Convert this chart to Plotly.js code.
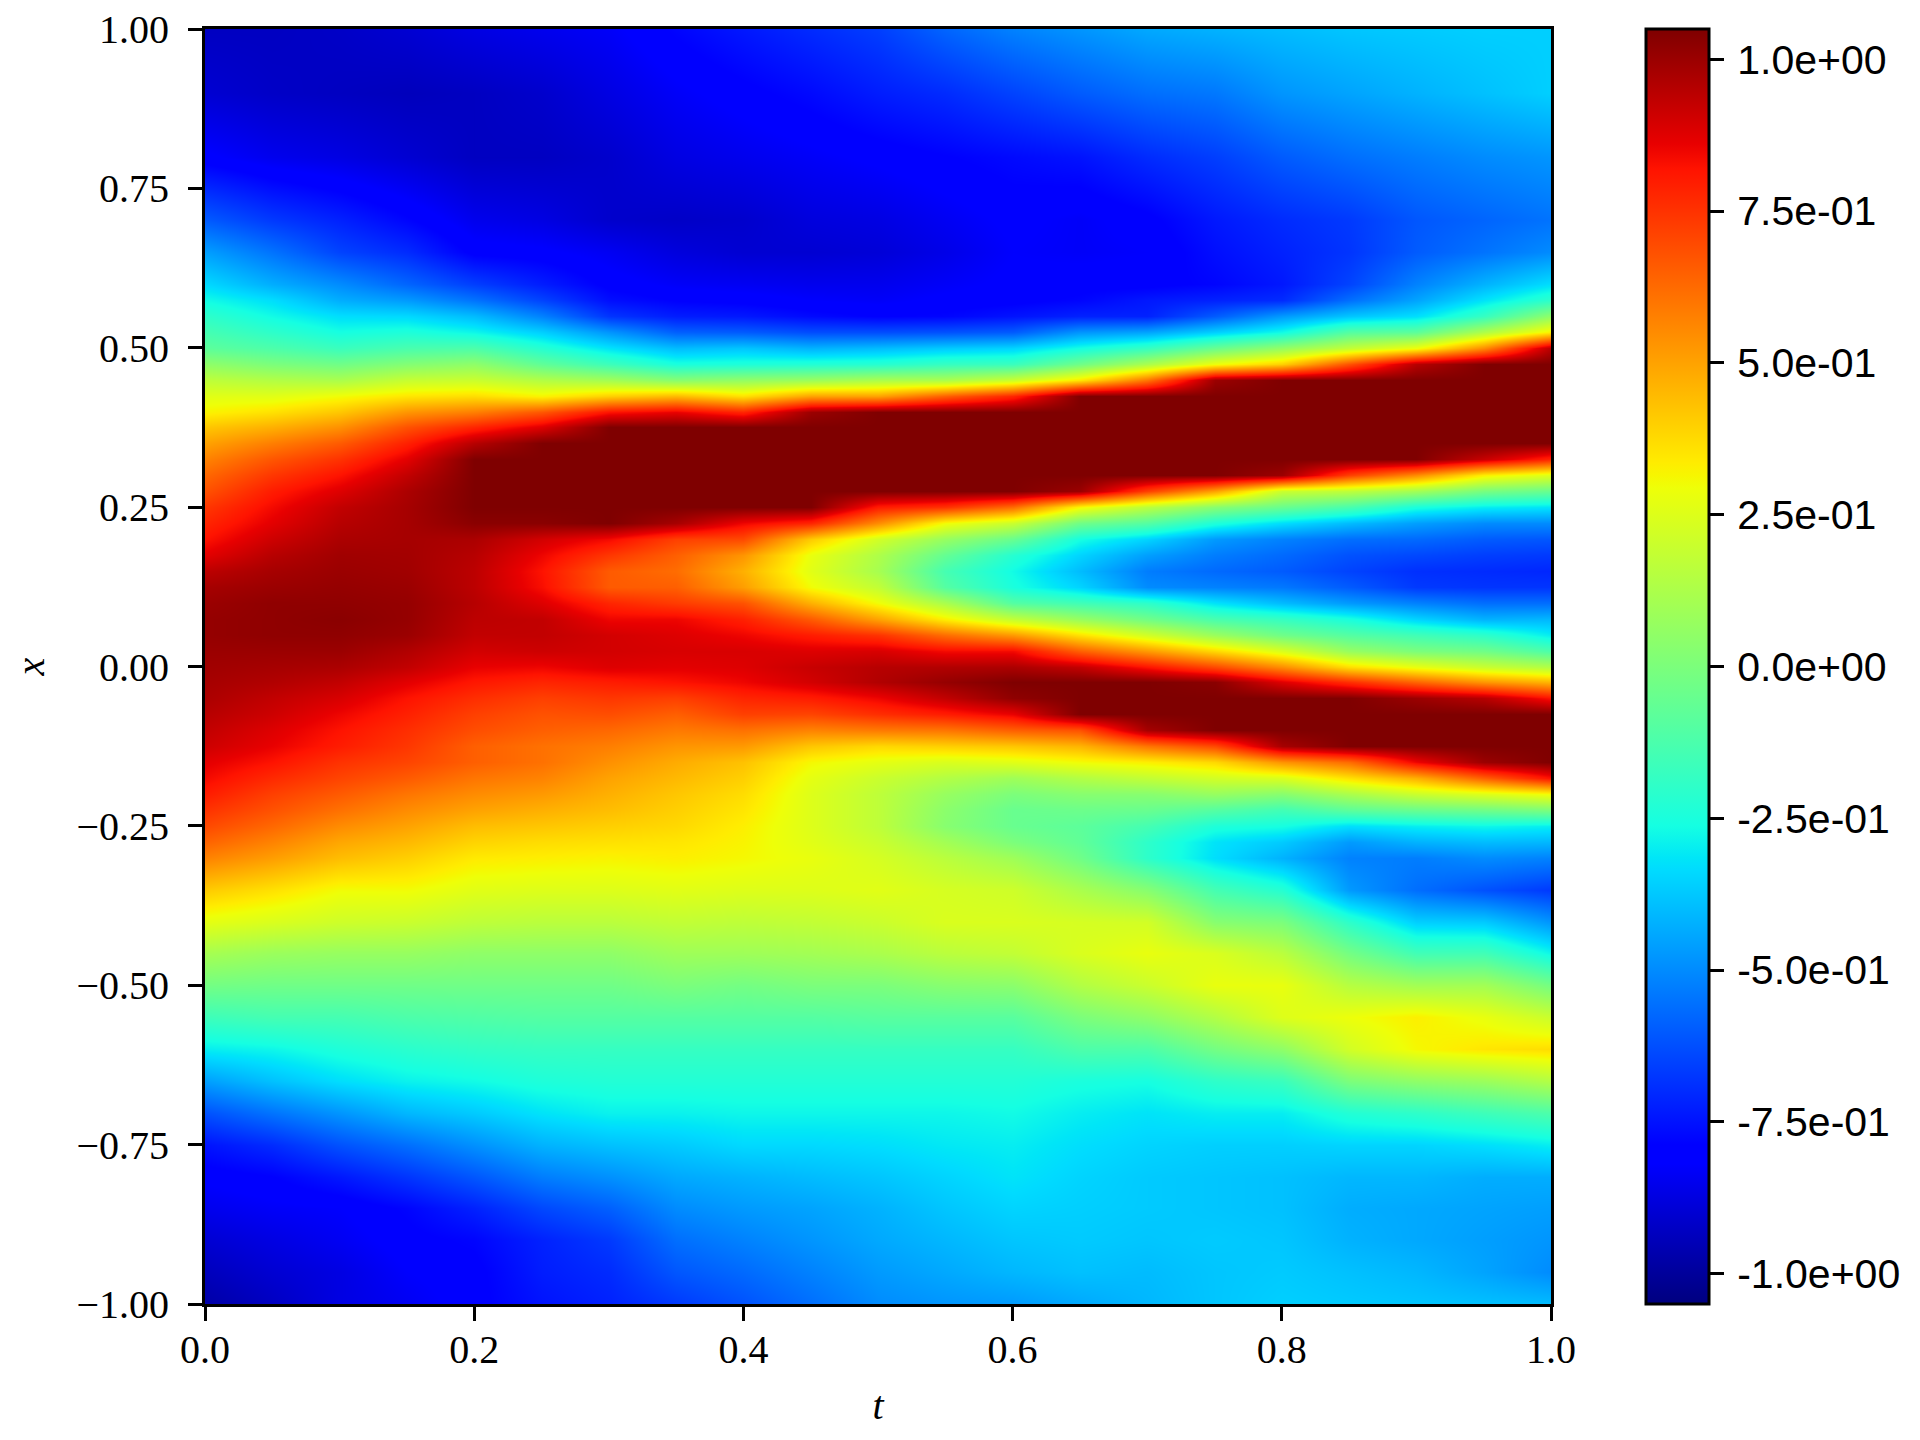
<!DOCTYPE html>
<html><head><meta charset="utf-8">
<script src="https://cdn.plot.ly/plotly-3.0.1.min.js"></script>
<style>html,body{margin:0;padding:0;background:#fff}#p{width:1920px;height:1440px}</style>
</head><body><div id="p"></div>
<script>
const xRows = [1,.9,.8,.7,.65,.6,
 .575,.55,.525,.5,.475,.45,.425,.4,
 .375,.35,.325,.3,.275,.25,.225,.2,
 .175,.15,.125,.1,.075,.05,.025,0,
 -.025,-.05,-.075,-.1,-.125,-.15,-.175,-.2,
 -.225,-.25,-.275,-.3,
 -.35,-.4,-.45,-.5,-.55,-.6,-.65,-.7,-.75,-.8,-.85,-.9,-.95,-1];
const tCols = [0,.05,.1,.15,.2,.25,.3,.35,.4,.45,.5,.55,.6,.65,.7,.75,.8,.85,.9,.95,1];
const u00 = [-.93,-.9,-.81,-.6,-.46,-.34,
 -.27,-.2,-.14,-.08,.05,.17,.26,.32,
 .42,.5,.57,.63,.68,.74,.78,.82,
 .87,.94,.98,1,1.01,1.01,1,.99,
 .98,.97,.95,.93,.91,.87,.84,.8,
 .75,.7,.64,.57,
 .41,.27,.11,-.02,-.16,-.3,-.46,-.62,-.75,-.81,-.85,-.9,-.94,-.98];
const u05 = [-.93,-.92,-.85,-.67,-.55,-.43,
 -.33,-.27,-.2,-.12,0,.14,.26,.36,
 .47,.58,.67,.74,.8,.84,.87,.91,
 .95,.98,1,1.02,1.02,1.02,1,.98,
 .96,.93,.91,.88,.86,.82,.77,.72,
 .68,.63,.57,.51,
 .36,.24,.08,-.03,-.14,-.28,-.39,-.55,-.7,-.79,-.83,-.87,-.9,-.93];
const u10 = [-.92,-.93,-.87,-.72,-.65,-.5,
 -.43,-.33,-.26,-.17,-.03,.12,.3,.42,
 .54,.66,.75,.82,.88,.93,.95,.97,
 .99,1,1.01,1.02,1.03,1.02,1,.97,
 .93,.89,.85,.82,.8,.75,.71,.66,
 .61,.55,.49,.44,
 .3,.21,.07,-.03,-.14,-.24,-.33,-.48,-.62,-.74,-.82,-.84,-.87,-.87];
const u15 = [-.9,-.94,-.9,-.78,-.7,-.58,
 -.47,-.34,-.24,-.13,.02,.19,.35,.53,
 .68,.79,.87,.93,.97,.98,.98,.98,
 .985,.99,1,1.01,1.01,1,.96,.93,
 .87,.82,.79,.76,.74,.71,.66,.6,
 .55,.5,.45,.4,
 .3,.2,.07,-.03,-.12,-.21,-.29,-.41,-.56,-.68,-.78,-.8,-.82,-.84];
const u20 = [-.87,-.93,-.93,-.85,-.8,-.66,
 -.55,-.4,-.28,-.12,.05,.2,.37,.58,
 .78,.95,1.05,1.05,1.05,1.05,1.03,.97,
 .95,.94,.94,.95,.94,.93,.9,.86,
 .81,.76,.72,.69,.65,.65,.6,.55,
 .5,.44,.39,.34,
 .26,.17,.05,-.03,-.11,-.19,-.27,-.37,-.49,-.61,-.72,-.78,-.8,-.8];
const u25 = [-.85,-.91,-.93,-.87,-.81,-.73,
 -.65,-.52,-.36,-.22,-.07,.14,.32,.67,
 .88,1.05,1.05,1.05,1.05,1.05,1.03,.9,
 .85,.82,.83,.88,.93,.93,.91,.85,
 .78,.72,.68,.65,.61,.61,.57,.52,
 .47,.42,.37,.33,
 .25,.16,.05,-.03,-.1,-.18,-.24,-.32,-.42,-.53,-.64,-.72,-.73,-.75];
const u30 = [-.83,-.87,-.91,-.91,-.84,-.8,
 -.76,-.68,-.48,-.32,-.16,.1,.4,.82,
 1.05,1.05,1.05,1.05,1.05,1.05,1.05,.84,
 .74,.66,.66,.78,.85,.9,.9,.88,
 .8,.74,.69,.63,.58,.54,.5,.47,
 .44,.4,.36,.32,
 .25,.16,.05,-.03,-.1,-.18,-.23,-.29,-.39,-.49,-.59,-.67,-.7,-.72];
const u35 = [-.78,-.83,-.87,-.92,-.88,-.83,
 -.79,-.73,-.59,-.4,-.25,.03,.45,.86,
 1.05,1.05,1.05,1.05,1.05,1.05,.98,.72,
 .65,.62,.65,.73,.85,.88,.89,.87,
 .82,.72,.65,.59,.53,.48,.45,.42,
 .4,.38,.35,.33,
 .26,.18,.09,0,-.1,-.18,-.23,-.29,-.37,-.44,-.5,-.56,-.61,-.67];
const u40 = [-.74,-.8,-.85,-.91,-.9,-.84,
 -.8,-.74,-.6,-.38,-.24,.06,.36,.78,
 1.05,1.05,1.05,1.05,1.05,1.05,.85,.7,
 .53,.47,.51,.68,.79,.85,.89,.88,
 .85,.78,.72,.61,.52,.43,.4,.37,
 .35,.33,.32,.31,
 .25,.17,.09,-.02,-.1,-.18,-.23,-.28,-.34,-.42,-.47,-.52,-.57,-.62];
const u45 = [-.7,-.77,-.83,-.88,-.9,-.85,
 -.82,-.77,-.63,-.42,-.23,.08,.5,1,
 1.05,1.05,1.05,1.05,1.05,1.05,.78,.41,
 .28,.26,.3,.47,.66,.8,.88,.92,
 .9,.8,.71,.57,.42,.31,.27,.25,
 .25,.25,.26,.28,
 .25,.18,.1,0,-.1,-.18,-.23,-.28,-.34,-.4,-.45,-.48,-.52,-.56];
const u50 = [-.66,-.73,-.81,-.87,-.89,-.85,
 -.83,-.79,-.63,-.4,-.22,.12,.5,1.05,
 1.05,1.05,1.05,1.05,1.05,.8,.55,.22,
 .13,.11,.18,.3,.5,.75,.89,.95,
 .96,.85,.76,.59,.38,.27,.2,.17,
 .17,.17,.2,.23,
 .26,.2,.12,0,-.09,-.18,-.23,-.28,-.33,-.38,-.42,-.44,-.47,-.5];
const u55 = [-.58,-.7,-.79,-.84,-.86,-.83,
 -.81,-.78,-.62,-.37,-.18,.12,.65,1.05,
 1.05,1.05,1.05,1.05,1.05,.75,.3,.07,
 -.06,-.14,-.1,.12,.33,.62,.84,.96,
 1.01,.93,.8,.6,.4,.24,.14,.07,
 .04,.03,.1,.16,
 .23,.24,.16,.03,-.09,-.18,-.23,-.28,-.31,-.35,-.38,-.41,-.44,-.48];
const u60 = [-.52,-.65,-.77,-.81,-.82,-.81,
 -.8,-.75,-.6,-.35,-.17,.2,.78,1.05,
 1.05,1.05,1.05,1.05,1.05,.62,.2,-.05,
 -.22,-.27,-.25,-.1,.18,.52,.84,.97,
 1.05,1.02,.86,.65,.42,.26,.09,0,
 -.05,-.05,0,.09,
 .21,.24,.18,.04,-.09,-.18,-.23,-.27,-.3,-.32,-.35,-.38,-.41,-.47];
const u65 = [-.48,-.6,-.75,-.83,-.83,-.8,
 -.78,-.72,-.48,-.26,-.03,.35,1.05,1.05,
 1.05,1.05,1.05,1.05,1,.31,-.03,-.26,
 -.35,-.4,-.35,-.15,.07,.36,.65,.93,
 1.05,1.05,1.05,.68,.46,.3,.14,.03,
 -.04,-.08,-.07,-.03,
 .12,.23,.24,.14,0,-.12,-.25,-.3,-.33,-.35,-.36,-.37,-.39,-.44];
const u70 = [-.44,-.56,-.7,-.8,-.82,-.8,
 -.74,-.72,-.45,-.18,.12,.6,1.05,1.05,
 1.05,1.05,1.05,1.05,.72,.16,-.1,-.35,
 -.46,-.53,-.5,-.2,-.03,.22,.52,.82,
 1.05,1.05,1.05,.98,.6,.33,.18,.03,
 -.05,-.14,-.2,-.2,
 .03,.22,.28,.2,.05,-.12,-.26,-.32,-.35,-.37,-.37,-.38,-.4,-.41];
const u75 = [-.42,-.54,-.66,-.74,-.76,-.78,
 -.72,-.6,-.36,-.05,.29,1,1.05,1.05,
 1.05,1.05,1.05,1.05,.5,.03,-.24,-.47,
 -.53,-.57,-.52,-.32,-.13,.08,.38,.7,
 1.03,1.05,1.05,1.05,.7,.38,.22,.07,
 -.1,-.24,-.32,-.33,
 -.14,.03,.24,.28,.14,-.02,-.2,-.3,-.36,-.38,-.38,-.37,-.38,-.38];
const u80 = [-.4,-.48,-.6,-.7,-.72,-.74,
 -.7,-.47,-.27,.06,.4,1.05,1.05,1.05,
 1.05,1.05,1.05,1,.2,-.05,-.33,-.52,
 -.57,-.6,-.54,-.4,-.18,-.03,.24,.55,
 .88,1.05,1.05,1.05,.98,.53,.24,.03,
 -.15,-.26,-.37,-.42,
 -.22,0,.16,.28,.25,.05,-.17,-.3,-.36,-.39,-.39,-.38,-.37,-.36];
const u85 = [-.38,-.45,-.56,-.67,-.68,-.65,
 -.56,-.38,-.1,.18,.68,1.05,1.05,1.05,
 1.05,1.05,1.05,.72,.17,-.13,-.4,-.56,
 -.62,-.65,-.6,-.47,-.25,-.1,.07,.37,
 .76,1.05,1.05,1.05,1.05,.62,.36,.12,
 -.08,-.33,-.47,-.52,
 -.47,-.2,-.02,.15,.29,.22,0,-.23,-.35,-.41,-.43,-.42,-.39,-.37];
const u90 = [-.37,-.42,-.53,-.61,-.6,-.52,
 -.45,-.33,-.08,.29,.95,1.05,1.05,1.05,
 1.05,1.05,1.05,.55,.1,-.25,-.46,-.57,
 -.64,-.69,-.67,-.52,-.35,-.15,0,.28,
 .64,1,1.05,1.05,1.05,.85,.47,.2,
 -.05,-.3,-.42,-.53,
 -.56,-.36,-.15,.1,.33,.31,.05,-.2,-.35,-.41,-.44,-.44,-.41,-.38];
const u95 = [-.36,-.39,-.5,-.58,-.55,-.42,
 -.32,-.18,.13,.55,1.05,1.05,1.05,1.05,
 1.05,1.05,.92,.33,-.01,-.3,-.5,-.6,
 -.66,-.7,-.68,-.56,-.42,-.2,-.03,.2,
 .53,.95,1.05,1.05,1.05,1,.65,.25,
 -.03,-.28,-.4,-.5,
 -.62,-.37,-.15,.1,.28,.35,.08,-.16,-.33,-.43,-.45,-.46,-.45,-.39];
const u100 = [-.36,-.36,-.48,-.55,-.5,-.33,
 -.2,.05,.33,.95,1.05,1.05,1.05,1.05,
 1.05,1.05,.78,.25,-.05,-.32,-.5,-.61,
 -.67,-.71,-.68,-.56,-.41,-.3,-.12,.14,
 .46,.82,1.05,1.05,1.05,1.05,.82,.3,
 0,-.3,-.41,-.52,
 -.67,-.48,-.28,-.02,.2,.37,.14,-.12,-.3,-.43,-.46,-.48,-.5,-.4];
const uCols = [u00,u05,u10,u15,u20,u25,u30,u35,u40,u45,u50,u55,u60,u65,u70,u75,u80,u85,u90,u95,u100];
const jetStops = [0,.11,.125,.34,.35,.375,.64,.65,.66,.89,.91,1];
const jetColors = ['rgb(0,0,127)','rgb(0,0,255)','rgb(0,0,255)','rgb(0,219,255)','rgb(0,230,247)','rgb(21,255,226)','rgb(238,255,8)','rgb(247,246,0)','rgb(255,236,0)','rgb(255,19,0)','rgb(232,0,0)','rgb(127,0,0)'];
const cbVals = [1,.75,.5,.25,0,-.25,-.5,-.75,-1];
const cbText = ['1.0e+00','7.5e-01','5.0e-01','2.5e-01','0.0e+00','-2.5e-01','-5.0e-01','-7.5e-01','-1.0e+00'];

const z = xRows.map((_, r) => uCols.map(c => c[r]));
const serif = 'Liberation Serif, serif';
const sans = 'Liberation Sans, Arial, sans-serif';
const axisCommon = {showline:true, mirror:true, linecolor:'#000', linewidth:3, ticks:'outside', ticklen:14, tickwidth:3,
  tickcolor:'#000', showgrid:false, zeroline:false, automargin:false, tickfont:{family:serif,size:40,color:'#000'}};
Plotly.newPlot('p',[{
  type:'heatmap', x:tCols, y:xRows, z:z, zmin:-1.05, zmax:1.05, zsmooth:'best',
  colorscale: jetStops.map((s,i)=>[s,jetColors[i]]),
  colorbar:{xref:'container', yref:'paper', x:1646/1920, xanchor:'left', y:0, yanchor:'bottom', xpad:0, ypad:0,
    thickness:63, thicknessmode:'pixels', len:1, lenmode:'fraction', outlinewidth:3, outlinecolor:'#000',
    ticks:'outside', ticklen:14, tickwidth:3, tickcolor:'#000', tickvals:cbVals, ticktext:cbText,
    tickfont:{family:sans,size:41,color:'#000'}}
}],{
  width:1920, height:1440, paper_bgcolor:'#fff', plot_bgcolor:'#fff',
  margin:{l:205,r:369,t:29,b:136,pad:0}, showlegend:false,
  xaxis:Object.assign({},axisCommon,{range:[0,1],tick0:0,dtick:.2,tickformat:'.1f',ticklabelstandoff:-6,
    title:{text:'<i>t</i>',font:{family:serif,size:40,color:'#000'},standoff:14}}),
  yaxis:Object.assign({},axisCommon,{range:[-1,1],tick0:-1,dtick:.25,tickformat:'.2f',ticklabelstandoff:11,
    title:{text:'<i>x</i>',font:{family:serif,size:40,color:'#000'},standoff:20}})
},{displayModeBar:false,staticPlot:true}).then(()=>{
  document.querySelectorAll('.colorbar text').forEach(el=>{
    el.setAttribute('transform','translate(5,0) '+(el.getAttribute('transform')||''));
  });
  const xt=document.querySelector('.xtitle');
  if(xt) xt.setAttribute('transform','translate(0,6) '+(xt.getAttribute('transform')||''));
});
</script></body></html>
